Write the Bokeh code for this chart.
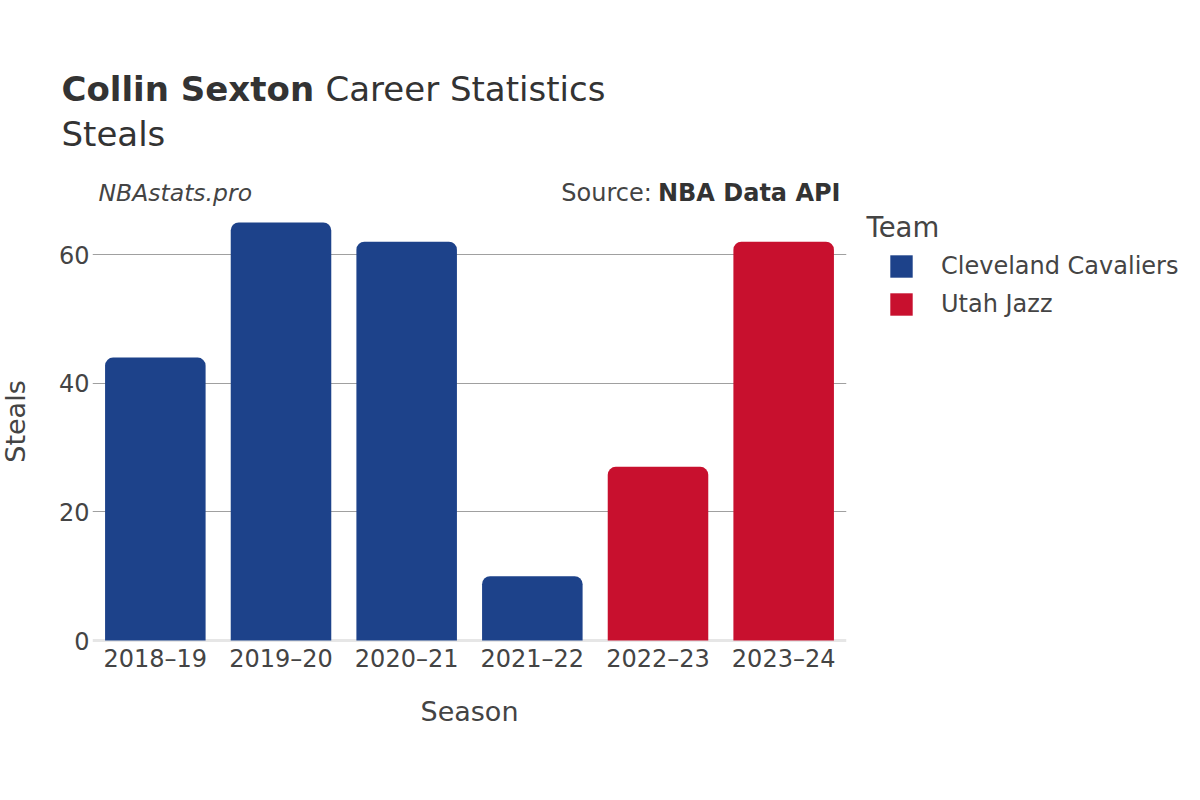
import math
from bokeh.plotting import figure
from bokeh.models import (Range1d, FixedTicker, Label, Legend, LegendItem, Span,
                          ColumnDataSource)
from bokeh.embed import file_html
from bokeh.resources import INLINE

# ---------------- data ----------------
seasons = ["2018–19", "2019–20", "2020–21", "2021–22", "2022–23", "2023–24"]
steals = [44, 65, 62, 10, 27, 62]
teams = ["Cleveland Cavaliers", "Cleveland Cavaliers", "Cleveland Cavaliers",
         "Cleveland Cavaliers", "Utah Jazz", "Utah Jazz"]
team_names = ["Cleveland Cavaliers", "Utah Jazz"]
team_colors = ["#1D428A", "#C8102E"]
y_ticks = [0, 20, 40, 60]

FONT = "DejaVu Sans"
TXT = "#444444"

# ---------------- geometry (page px) ----------------
W, H = 1200, 800
FL, FR, FT, FB = 92, 846, 200, 640   # FB: where y = 0 lies
FBF = FB + 2                         # frame bottom, a little below zero line
FW = FR - FL
YMAX = max(steals) * 1.0526
XMAX = len(seasons)
PX_PER_Y = (FB - FT) / YMAX


def X(px):
    return (px - FL) / FW * XMAX


def Y(py):
    return (FB - py) / PX_PER_Y


p = figure(frame_width=FW, frame_height=FBF - FT,
           min_border_left=FL, min_border_right=W - FR,
           min_border_top=FT, min_border_bottom=H - FBF,
           x_range=Range1d(0, XMAX), y_range=Range1d(Y(FBF), YMAX),
           output_backend="svg", toolbar_location=None)
p.outline_line_color = None
p.background_fill_color = "white"
p.border_fill_color = "white"

xs = [i + 0.5 for i in range(len(seasons))]
renderers = {}
for tname, col in zip(team_names, team_colors):
    idx = [i for i, t in enumerate(teams) if t == tname]
    src = ColumnDataSource(dict(x=[xs[i] for i in idx], top=[steals[i] for i in idx]))
    r = p.vbar(x="x", top="top", bottom=0, width=0.8, source=src,
               fill_color=col, line_color=None, border_radius=(8, 8, 0, 0))
    renderers[tname] = r

# axes
p.xaxis.ticker = FixedTicker(ticks=xs)
p.xaxis.major_label_overrides = {x: s for x, s in zip(xs, seasons)}
p.yaxis.ticker = FixedTicker(ticks=y_ticks)
for ax in (p.xaxis[0], p.yaxis[0]):
    ax.axis_line_color = None
    ax.major_tick_line_color = None
    ax.minor_tick_line_color = None
    ax.major_label_text_font = FONT
    ax.major_label_text_font_size = "24px"
    ax.major_label_text_color = TXT
    ax.axis_label_text_font = FONT
    ax.axis_label_text_font_size = "27px"
    ax.axis_label_text_font_style = "normal"
    ax.axis_label_text_color = TXT
p.xaxis.major_label_standoff = -4
p.yaxis.major_label_standoff = -3
p.xaxis.axis_label = "Season"
p.xaxis.axis_label_standoff = 20

p.xgrid.grid_line_color = None
p.ygrid.ticker = FixedTicker(ticks=[t for t in y_ticks if t != 0])
p.ygrid.grid_line_color = "#a0a0a0"
p.ygrid.grid_line_width = 1

p.add_layout(Span(location=0, dimension="width", line_color="#e6e6e6",
                  line_width=3, level="underlay"))

# texts (placed in side panels so that they are not clipped to the frame)
def lab(text, px, py, size, style="normal", align="left", color=TXT, side="above",
        angle=0):
    p.add_layout(Label(x=X(px), y=Y(py), text=text, text_font=FONT,
                       text_font_size=f"{size}px", text_font_style=style,
                       text_align=align, text_baseline="middle",
                       text_color=color, angle=angle), side)

lab("Collin Sexton", 61, 88, 34, "bold", color="#333333")
lab("Career Statistics", 325, 88, 34, color="#333333")
lab("Steals", 61, 133, 34, color="#333333")
lab("NBAstats.pro", 98, 192, 23.5, "italic")
lab("NBA Data API", 840, 192, 24, "bold", align="right", color="#333333")
lab("Source: ", 840 - 181, 192, 24, align="right", side="below")
lab("Team", 866, 226, 27.5, side="below")
lab("Steals", 15, 421, 27, align="center", side="left", angle=math.pi / 2)

legend = Legend(items=[LegendItem(label=t, renderers=[renderers[t]]) for t in team_names],
                location=(887 - FR, FBF - 318), padding=0, margin=0, spacing=10,
                glyph_width=28, glyph_height=28, label_height=22,
                label_standoff=26, label_text_font=FONT,
                label_text_font_size="24px", label_text_color=TXT,
                border_line_color=None, background_fill_alpha=0)
p.add_layout(legend, "right")

open("out.html", "w").write(file_html(p, INLINE))
